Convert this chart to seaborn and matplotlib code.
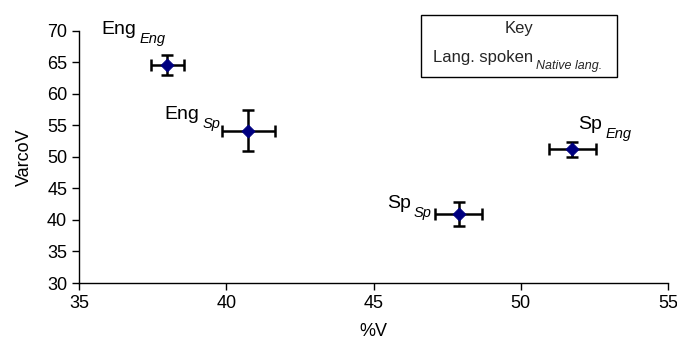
import matplotlib
matplotlib.use("Agg")
import matplotlib.pyplot as plt
import seaborn as sns
import pandas as pd
from matplotlib.patches import Rectangle
from matplotlib.font_manager import findfont, FontProperties

sns.set_theme(style="white")

fam = "Liberation Sans Narrow"
try:
    findfont(FontProperties(family=fam), fallback_to_default=False)
except Exception:
    fam = "Liberation Sans"
plt.rcParams['font.family'] = [fam, 'DejaVu Sans']

# data
spoken = ["Eng", "Eng", "Sp", "Sp"]
native = ["Eng", "Sp", "Sp", "Eng"]
pct_v = [38.0, 40.75, 47.9, 51.75]
varco_v = [64.6, 54.2, 40.9, 51.2]
pct_v_err = [0.55, 0.9, 0.8, 0.8]
varco_v_err = [1.6, 3.2, 1.9, 1.2]
key_title = "Key"
key_base = "Lang. spoken"
key_sub = "Native lang."

df = pd.DataFrame({"pctV": pct_v, "VarcoV": varco_v, "xerr": pct_v_err,
                   "yerr": varco_v_err, "spoken": spoken, "native": native})

fig = plt.figure(figsize=(6.77, 3.45), dpi=100)
ax = fig.add_axes([79/677, 1-283/345, (668-79)/677, (283-31)/345])

ax.errorbar(df["pctV"], df["VarcoV"], xerr=df["xerr"], yerr=df["yerr"],
            fmt="none", ecolor="black", elinewidth=1.8, capsize=4, capthick=1.8, zorder=2)
sns.scatterplot(data=df, x="pctV", y="VarcoV", marker="D", color="#000080",
                s=45, edgecolor="#000080", linewidth=0.5, ax=ax, zorder=3)

# offsets (pixels) of the left end / baseline of each base label from its point
offsets = [(-66, 31), (-84, 12), (-72, 6), (6, 20)]
for (x, y, sp, nat), off in zip(zip(pct_v, varco_v, spoken, native), offsets):
    base = ax.annotate(sp, (x, y), xytext=off, textcoords="offset pixels",
                       ha="left", va="baseline", fontsize=14, color="black")
    ax.annotate(nat, xy=(1, 0), xycoords=base, xytext=(3, -5),
                textcoords="offset pixels", ha="left", va="baseline",
                fontsize=10.5, style="italic", color="black")

ax.set_xlim(35, 55)
ax.set_ylim(30, 70)
ax.set_xticks([35, 40, 45, 50, 55])
ax.set_yticks(range(30, 71, 5))
ax.set_xlabel("%V", fontsize=13, color="black", labelpad=8)
ax.set_ylabel("VarcoV", fontsize=13, color="black", labelpad=10)
ax.tick_params(axis="both", labelsize=13, colors="black", length=5, width=1,
               direction="out", bottom=True, left=True)
for s in ["top", "right"]:
    ax.spines[s].set_visible(False)
for s in ["left", "bottom"]:
    ax.spines[s].set_color("black")
    ax.spines[s].set_linewidth(1)

# key box
fig.patches.append(Rectangle((421/677, 1-77/345), (617-421)/677, (77-15)/345,
                             transform=fig.transFigure, facecolor="white",
                             edgecolor="black", linewidth=1, zorder=5))
fig.text(519/677, 1-29/345, key_title, ha="center", va="center", fontsize=12, zorder=6)
kb = fig.text(433/677, 1-62/345, key_base, ha="left", va="baseline", fontsize=12, zorder=6)
fig.text(0, 0, key_sub, ha="left", va="baseline", fontsize=9, style="italic", zorder=6)
kt = fig.texts[-1]
fig.texts.remove(kt)
fig.add_artist(matplotlib.text.Annotation(key_sub, xy=(1, 0), xycoords=kb, xytext=(3, -4),
                                          textcoords="offset pixels", ha="left",
                                          va="baseline", fontsize=9, style="italic",
                                          zorder=6))

fig.savefig("out.png", dpi=100)
